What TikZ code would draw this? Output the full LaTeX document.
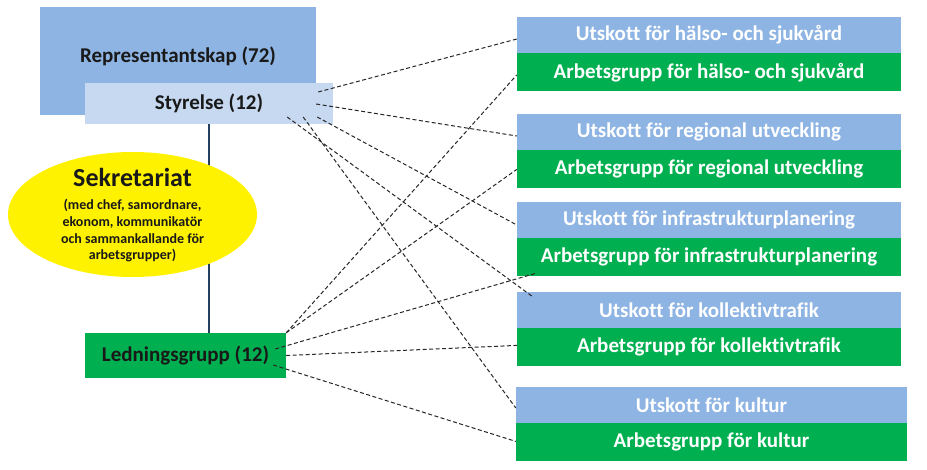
\documentclass[tikz,border=0pt]{standalone}
\usepackage{fontspec}
\setmainfont{Carlito}[Ligatures=NoCommon]
\usepackage{tikz}
\usetikzlibrary{positioning, shapes.geometric}

\definecolor{utblue}{HTML}{8EB4E3}
\definecolor{stblue}{HTML}{C6D9F1}
\definecolor{agreen}{HTML}{00B050}
\definecolor{navyline}{HTML}{243F60}

\begin{document}
\begin{tikzpicture}[x=1pt, y=-1pt, font=\fontsize{21}{25}\selectfont\bfseries,
    box/.style={rectangle, inner sep=0pt},
    utsk/.style={box, fill=utblue, text=white, minimum height=36pt},
    arbg/.style={box, fill=agreen, text=white, minimum height=38pt},
    link/.style={black!85, line width=1pt, dash pattern=on 4pt off 2.5pt}]
  \useasboundingbox (0,0) rectangle (927,469);
  % left side: representantskap, styrelse, ledningsgrupp
  \node[box, fill=utblue, text=black!90, minimum width=276pt, text height=55pt, text depth=53pt] (rep) at (178,61) {Representantskap (72)};
  \node[box, fill=stblue, text=black!90, minimum width=248pt, minimum height=41pt] (sty) at (209,103.5) {Styrelse (12)};
  \node[box, fill=agreen, text=black!90, minimum width=201pt, minimum height=45pt] (led) at (185.5,355.5) {Ledningsgrupp (12)};
  \draw[navyline, line width=1.1pt] (sty.south) -- (sty.south |- led.north);
  % sekretariat sits on top of the line
  \node[ellipse, fill=yellow, inner sep=0pt, minimum width=249pt, minimum height=125pt] (sek) at (132.5,214.5) {};
  \node[align=center, text=black!90, font=\fontsize{14}{16.7}\selectfont\bfseries] (sektxt) at ([yshift=-1]sek.center)
    {{\fontsize{26}{26}\selectfont Sekretariat}\\[6.3pt](med chef, samordnare,\\ekonom, kommunikatör\\och sammankallande för\\arbetsgrupper)};
  % right side: utskott with arbetsgrupp below
  \foreach \j/\x/\y/\w/\topic in {1/709/35/384pt/hälso- och sjukvård, 2/709/132/384pt/regional utveckling,
      3/709/220/384pt/infrastrukturplanering, 4/709/310/384pt/kollektivtrafik, 5/711.5/405/391pt/kultur} {
    \node[utsk, minimum width=\w] (u\j) at (\x,\y) {Utskott för \topic};
    \node[arbg, minimum width=\w, below=0pt of u\j] (a\j) {Arbetsgrupp för \topic};
  }
  % dashed links from styrelse
  \foreach \sx/\sy/\e/\ex/\ey in {-15/-11.5/u1.west/0/4, -17/0.5/u2.west/0/4, -16/13.5/u3.west/0/5,
      -46/13.5/u4.north west/16/5, -30/13.5/u5.west/0/3}
    \draw[link] ([shift={(\sx,\sy)}]sty.east) -- ([shift={(\ex,\ey)}]\e);
  % dashed links from ledningsgrupp
  \draw[link] (led.north east) -- ([shift={(0,2.5)}]a1.west);
  \draw[link] (led.north east) -- (a2.west);
  \draw[link] ([shift={(-11,-6.5)}]led.east) -- ([shift={(18,-3)}]a3.south west);
  \draw[link] (led.east) -- ([shift={(0,-2)}]a4.west);
  \draw[link] ([shift={(-13,9.5)}]led.east) -- ([shift={(0,-1)}]a5.west);
\end{tikzpicture}
\end{document}
